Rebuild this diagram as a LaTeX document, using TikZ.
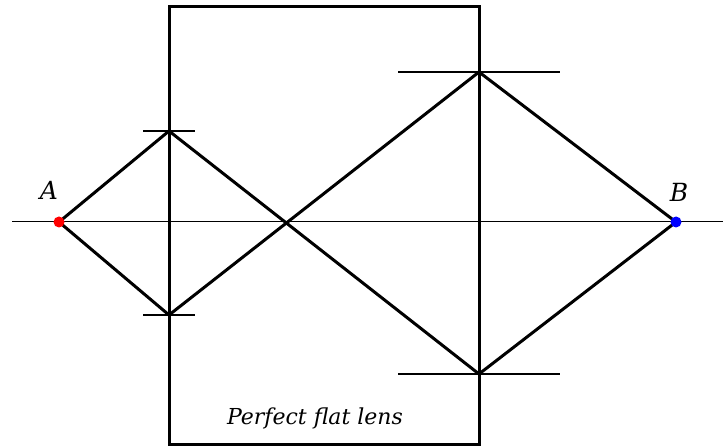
\documentclass[tikz,border=0pt]{standalone}
\usepackage{fontspec}
\setmainfont{DejaVu Serif}
\begin{document}
\begin{tikzpicture}[x=1pt,y=-1pt,
  ray/.style={line width=3pt,line cap=round,line join=round},
  tickline/.style={line width=2.8pt},
  lbl/.style={font=\fontsize{25}{27}\selectfont\itshape,inner sep=0pt},
  captxt/.style={font=\fontsize{22}{24}\selectfont\itshape,inner sep=0pt}]
\useasboundingbox (0,0) rectangle (723,446);
% axis
\coordinate (axL) at (12,222);
\coordinate (axR) at (723,222);
\draw[line width=1pt] (axL) -- (axR);
% lens
\draw[line width=3pt] (169,7) rectangle (479,444);
% points
\coordinate (A) at (59,222);
\coordinate (B) at (676,222);
\coordinate (UL) at (169,131);
\coordinate (LL) at (169,315);
\coordinate (C) at (287,222);
\coordinate (UR) at (479,72);
\coordinate (LR) at (479,374);
% ticks
\draw[tickline] (143,131) -- (195,131);
\draw[tickline] (143,315) -- (195,315);
\draw[tickline] (398,72) -- (560,72);
\draw[tickline] (398,374) -- (560,374);
% rays
\draw[ray] (A) -- (UL) -- (LR) -- (B);
\draw[ray] (A) -- (LL) -- (UR) -- (B);
% dots
\fill[red] (A) circle (5.5);
\fill[blue] (B) circle (5.5);
\node[lbl] (la) at (49,190) {A};
\node[lbl] (lb) at (679,192) {B};
\node[captxt] (capt) at (315,418) {Perfect flat lens};
\end{tikzpicture}
\end{document}
